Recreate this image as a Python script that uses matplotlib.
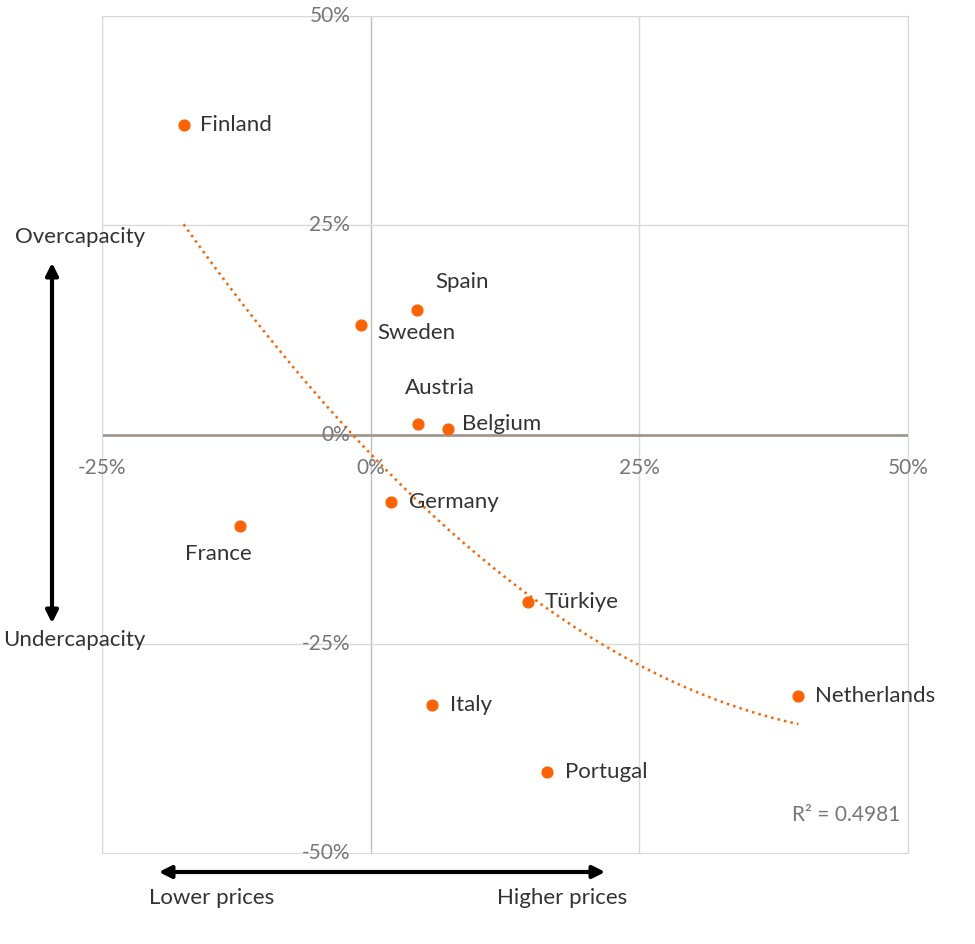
import numpy as np
import matplotlib.pyplot as plt
from matplotlib.patches import FancyArrowPatch

plt.rcParams['font.family'] = ['Lato', 'DejaVu Sans']

countries = ['Finland', 'Spain', 'Sweden', 'Austria', 'Belgium', 'Germany',
             'France', 'Türkiye', 'Italy', 'Portugal', 'Netherlands']
price_change = [-17.4, 4.3, -0.9, 4.4, 7.2, 1.9, -12.2, 14.6, 5.7, 16.4, 39.8]
capacity = [37.0, 14.9, 13.1, 1.2, 0.7, -8.1, -10.9, -20.0, -32.3, -40.3, -31.2]

# label offsets in points (dx, dy, ha)
label_pos = {
    'Finland': (12, 0, 'left'), 'Spain': (13, 20, 'left'), 'Sweden': (12, -6, 'left'),
    'Austria': (16, 26, 'center'), 'Belgium': (10, 3, 'left'), 'Germany': (13, 0, 'left'),
    'France': (-15, -20, 'center'), 'Türkiye': (12, 0, 'left'), 'Italy': (13, 0, 'left'),
    'Portugal': (13, 0, 'left'), 'Netherlands': (12, 0, 'left'),
}

orange = '#ff6200'
fig = plt.figure(figsize=(9.75, 9.44), dpi=100)
ax = fig.add_axes([0.1046, 0.0964, 0.8267, 0.8866])
ax.set_xlim(-25, 50)
ax.set_ylim(-50, 50)

for v in [-25, 0, 25, 50]:
    ax.axvline(v, color='#d9d9d9' if v != 0 else '#bfbfbf', lw=1, zorder=0)
for v in [-25, 25, 50]:
    ax.axhline(v, color='#d9d9d9', lw=1, zorder=0)
ax.axhline(0, color='#a09890', lw=2, zorder=1)
for s in ax.spines.values():
    s.set_color('#d9d9d9')
ax.set_xticks([])
ax.set_yticks([])

for v in [-25, 0, 25, 50]:
    ax.text(v, -2.8, f'{v}%', ha='center', va='top', fontsize=15, color='#777777')
for v in [-50, -25, 0, 25, 50]:
    ax.text(-1.9, v, f'{v}%', ha='right', va='center', fontsize=15, color='#777777')

# quadratic trendline
coef = np.polyfit(price_change, capacity, 2)
xs = np.linspace(min(price_change), max(price_change), 200)
ax.plot(xs, np.polyval(coef, xs), ':', color=orange, lw=1.8, zorder=2)

ax.scatter(price_change, capacity, s=60, color=orange, zorder=3)
for c, x, y in zip(countries, price_change, capacity):
    dx, dy, ha = label_pos[c]
    ax.annotate(c, (x, y), xytext=(dx, dy), textcoords='offset points',
                ha=ha, va='center', fontsize=16, color='#333333')

ax.text(0.99, 0.045, 'R² = 0.4981', transform=ax.transAxes, ha='right',
        va='center', fontsize=15, color='#777777')

# axis direction arrows
fig.patches.append(FancyArrowPatch(
    (52 / 975, 1 - 260 / 944), (52 / 975, 1 - 626 / 944), transform=fig.transFigure,
    arrowstyle='<|-|>', mutation_scale=18, lw=3, color='black'))
fig.patches.append(FancyArrowPatch(
    (156 / 975, 1 - 872 / 944), (608 / 975, 1 - 872 / 944), transform=fig.transFigure,
    arrowstyle='<|-|>', mutation_scale=18, lw=3, color='black'))
fig.text(80 / 975, 1 - 237 / 944, 'Overcapacity', ha='center', va='center', fontsize=16, color='#333333')
fig.text(74 / 975, 1 - 640 / 944, 'Undercapacity', ha='center', va='center', fontsize=16, color='#333333')
fig.text(212 / 975, 1 - 898 / 944, 'Lower prices', ha='center', va='center', fontsize=16, color='#333333')
fig.text(562 / 975, 1 - 898 / 944, 'Higher prices', ha='center', va='center', fontsize=16, color='#333333')

plt.savefig('out.png', dpi=100)
